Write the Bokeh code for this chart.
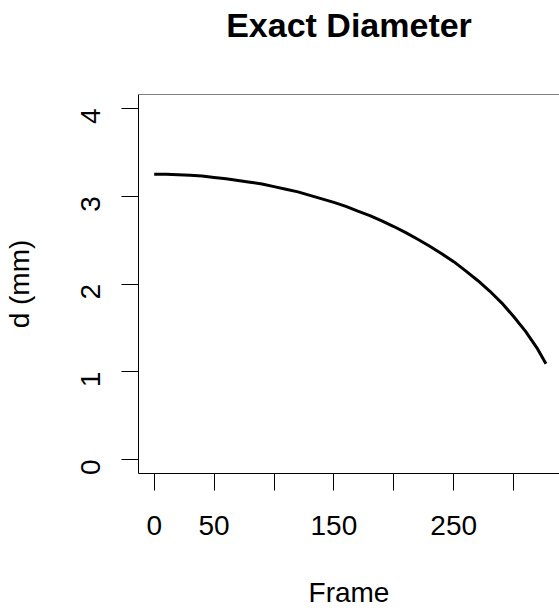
import numpy as np
from bokeh.plotting import figure
from bokeh.models import Range1d, FixedTicker, Span, Title
from bokeh.embed import file_html
from bokeh.resources import INLINE

frame = [0, 10, 20, 30, 40, 50, 60, 70, 80, 90, 100, 110, 120, 130, 140, 150,
         160, 170, 180, 190, 200, 210, 220, 230, 240, 250, 260, 270, 280, 290,
         300, 310, 320, 327]
diameter = [3.25, 3.25, 3.245, 3.24, 3.23, 3.215, 3.20, 3.18, 3.16, 3.14, 3.11,
            3.08, 3.05, 3.01, 2.97, 2.93, 2.885, 2.83, 2.78, 2.72, 2.655, 2.585,
            2.51, 2.43, 2.345, 2.255, 2.15, 2.04, 1.92, 1.785, 1.63, 1.46, 1.26, 1.09]
x_ticks = [0, 50, 100, 150, 200, 250, 300]
x_tick_labels = ["0", "50", "", "150", "", "250", ""]
y_ticks = [0, 1, 2, 3, 4]
title_text = "Exact Diameter"

FONT = "Liberation Sans"

p = figure(width=559, height=610, output_backend="svg", toolbar_location=None,
           x_range=Range1d(-13.1, 338.3), y_range=Range1d(-0.16, 4.16),
           min_border_left=138, min_border_right=0, min_border_top=94, min_border_bottom=135)

xa = p.below[0]
ya = p.left[0]

p.line(frame, diameter, line_color="black", line_width=3)

p.grid.visible = False
p.outline_line_color = None
p.background_fill_color = "white"
p.border_fill_color = "white"

p.add_layout(Span(location=4.16, dimension="width", line_color="black", line_width=1))

# invisible spacer panel between the frame and the main title (keeps the title high)
p.add_layout(Title(text=" ", text_font_size="1px", text_color="white", standoff=48), "above")

p.title.text = title_text
p.title.align = "center"
p.title.text_font = FONT
p.title.text_font_size = "34px"
p.title.text_font_style = "bold"
p.title.text_color = "black"
p.title.standoff = 0

for ax in (xa, ya):
    ax.axis_line_color = "black"
    ax.axis_line_width = 1
    ax.major_tick_line_color = "black"
    ax.major_tick_line_width = 1
    ax.major_tick_in = 0
    ax.major_tick_out = 17
    ax.minor_tick_line_color = None
    ax.major_label_text_font = FONT
    ax.major_label_text_font_size = "28px"
    ax.major_label_text_color = "black"
    ax.axis_label_text_font = FONT
    ax.axis_label_text_font_size = "28px"
    ax.axis_label_text_font_style = "normal"
    ax.axis_label_text_color = "black"

xa.ticker = FixedTicker(ticks=x_ticks)
xa.major_label_overrides = {t: l for t, l in zip(x_ticks, x_tick_labels)}
xa.axis_label = "Frame"
xa.major_label_standoff = 25
xa.axis_label_standoff = 39

ya.ticker = FixedTicker(ticks=y_ticks)
ya.major_label_orientation = np.pi / 2
ya.axis_label = "d (mm)"
ya.major_label_standoff = 31
ya.axis_label_standoff = 34

open("out.html", "w").write(file_html(p, INLINE))
